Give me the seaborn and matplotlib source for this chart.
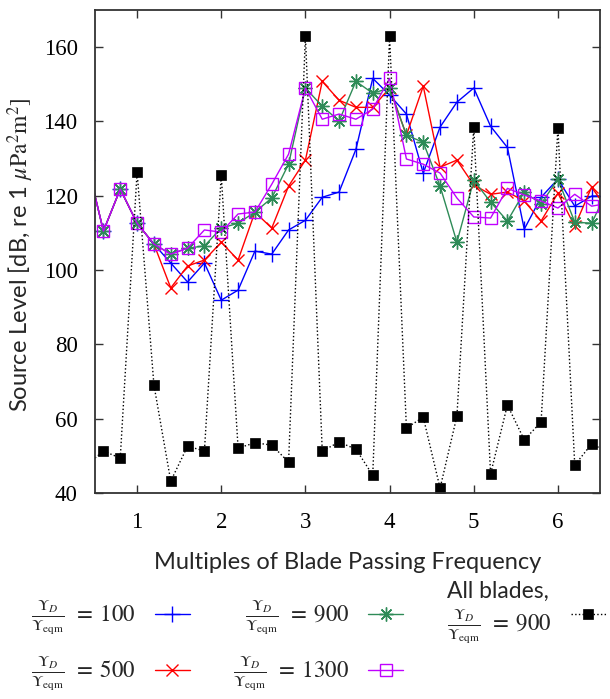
import numpy as np
import pandas as pd
import matplotlib
matplotlib.use("Agg")
import matplotlib.pyplot as plt
import seaborn as sns

# ---- data ----
harmonics = [0.4, 0.6, 0.8, 1.0, 1.2, 1.4, 1.6, 1.8, 2.0, 2.2, 2.4, 2.6, 2.8, 3.0, 3.2, 3.4,
             3.6, 3.8, 4.0, 4.2, 4.4, 4.6, 4.8, 5.0, 5.2, 5.4, 5.6, 5.8, 6.0, 6.2, 6.4, 6.6]

sl_100 = [129.5, 110.5, 121.8, 112.6, 107.0, 101.9, 96.8, 101.9, 91.9, 94.6, 105.1, 104.3, 110.8, 113.4,
          119.6, 121.0, 132.5, 151.6, 147.1, 142.0, 126.1, 138.5, 145.2, 149.0, 138.7, 133.0,
          111.0, 119.6, 124.5, 117.2, 119.9, 120.0]
sl_500 = [129.5, 110.5, 121.8, 112.6, 107.0, 95.2, 101.1, 102.7, 107.5, 102.7, 115.6, 111.3, 122.6, 129.6,
          150.8, 145.7, 143.8, 143.8, 149.0, 136.3, 149.5, 127.7, 129.6, 122.9, 120.4, 121.0,
          118.6, 113.2, 120.7, 111.8, 122.3, 116.0]
sl_900 = [129.5, 110.5, 121.8, 112.6, 107.0, 104.3, 105.9, 106.5, 111.3, 112.6, 115.6, 119.4, 128.5, 149.0,
          144.1, 140.1, 150.8, 147.6, 149.0, 136.3, 134.4, 122.6, 107.5, 124.2, 118.3, 113.2,
          121.0, 117.8, 124.5, 112.9, 112.6, 122.0]
sl_1300 = [129.5, 110.5, 121.8, 112.6, 107.0, 104.3, 105.9, 110.8, 110.2, 115.1, 115.6, 123.1, 131.2, 149.0,
           140.6, 142.0, 140.6, 143.3, 151.6, 129.9, 128.5, 126.1, 119.4, 114.3, 114.0, 122.0,
           120.2, 118.6, 116.7, 120.4, 117.2, 118.0]
sl_all = [47.5, 51.3, 49.4, 126.4, 69.1, 43.2, 52.6, 51.3, 125.6, 52.1, 53.5, 52.9, 48.3, 163.0,
          51.3, 53.7, 51.8, 44.8, 163.0, 57.5, 60.4, 41.3, 60.7, 138.5, 45.1, 63.7,
          54.3, 59.1, 138.2, 47.5, 53.2, 51.0]

frac = r"\frac{\Upsilon_D}{\Upsilon_{\rm eqm}}"
labels = [r"$" + frac + r"\;\,=\;100$", r"$" + frac + r"\;\,=\;500$", r"$" + frac + r"\;\,=\;900$",
          r"$" + frac + r"\;\,=\;1300$", "All blades,\n" + r"$" + frac + r"\;\,=\;900$"]

x_ticks = [1, 2, 3, 4, 5, 6]
y_ticks = [40, 60, 80, 100, 120, 140, 160]

# ---- style ----
sns.set_style("ticks")
plt.rcParams["font.family"] = ["Lato", "DejaVu Sans"]
plt.rcParams["mathtext.fontset"] = "stix"

fig = plt.figure(figsize=(6.10, 6.99), dpi=100)
ax = fig.add_axes([95 / 610, 1 - 493 / 699, 505 / 610, 483 / 699])

series = [
    (sl_100, "#0000ff", "+", "-", dict(markersize=11, markeredgewidth=1.0)),
    (sl_500, "#ff0000", "x", "-", dict(markersize=9, markeredgewidth=1.0)),
    (sl_900, "#2e8b57", (8, 2, 0), "-", dict(markersize=10, markeredgewidth=1.0)),
    (sl_1300, "#c000ff", "s", "-", dict(markersize=9, markeredgewidth=1.0, markerfacecolor="none")),
    (sl_all, "#000000", "s", ":", dict(markersize=7.5, markeredgewidth=0.5, markerfacecolor="#000000")),
]

for (vals, col, mk, ls, kw), lab in zip(series, labels):
    df = pd.DataFrame({"x": harmonics, "y": vals})
    sns.lineplot(data=df, x="x", y="y", ax=ax, color=col, marker=mk, linestyle=ls,
                 linewidth=1.0, label=lab, markeredgecolor=col, **kw)

ax.set_xlim(0.5, 6.5)
ax.set_ylim(40, 170)
ax.set_xticks(x_ticks)
ax.set_yticks(y_ticks)
ax.tick_params(direction="in", length=6, width=1.0, top=True, right=True,
               labelsize=16.5, colors="#333333", labelcolor="black")
ax.tick_params(axis="x", pad=14)
ax.tick_params(axis="y", pad=12.5)
for t in ax.get_xticklabels() + ax.get_yticklabels():
    t.set_fontfamily("Liberation Serif")
for sp in ax.spines.values():
    sp.set_linewidth(1.3)
    sp.set_color("#333333")
    sp.set_visible(True)

ax.set_xlabel("Multiples of Blade Passing Frequency", fontsize=17)
ax.xaxis.set_label_coords(0.5, (493 - 552) / 483)
ax.set_ylabel(r"Source Level [dB, re 1 $\mu{\rm Pa}^2{\rm m}^2]$", fontsize=17)
ax.yaxis.set_label_coords((36 - 95) / 505, 0.493)

handles, labs = ax.get_legend_handles_labels()
ax.legend(handles, labs, ncol=3, loc="upper left", bbox_to_anchor=(31 / 610, 1 - 581 / 699),
          bbox_transform=fig.transFigure, frameon=False, markerfirst=False,
          fontsize=16.5, handlelength=1.53, columnspacing=1.9, labelspacing=0.72,
          handletextpad=0.83, borderpad=0, borderaxespad=0)

fig.savefig("out.png", dpi=100)
